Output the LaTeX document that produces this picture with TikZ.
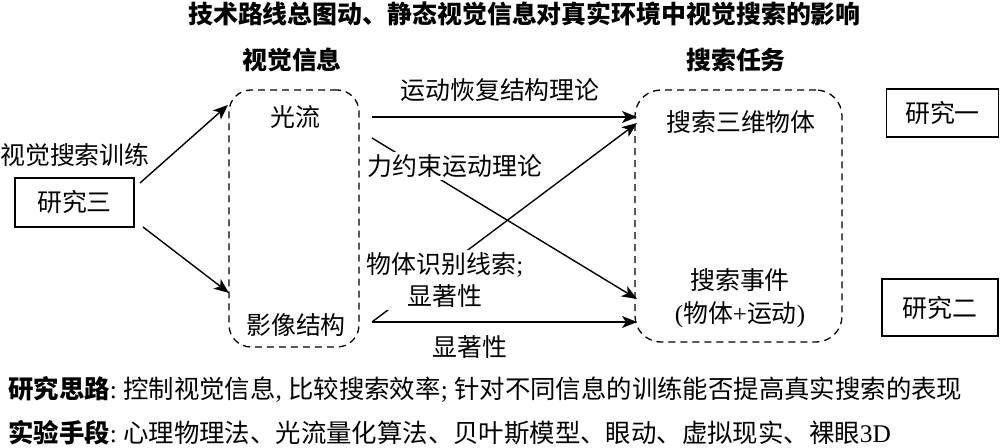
\documentclass[tikz,border=0pt]{standalone}
\usepackage{fontspec}
\setmainfont{Noto Sans CJK SC}
\newfontfamily\latfont{Liberation Serif}
\newcommand\latn[1]{{\latfont #1}}
\usetikzlibrary{arrows.meta}
\tikzset{
  lbl/.style={inner sep=0pt, font=\fontsize{25}{33}\selectfont, align=center},
  hdr/.style={inner sep=0pt, font=\fontsize{25}{30}\selectfont\bfseries},
  foot/.style={inner sep=0pt, anchor=west, font=\fontsize{25.5}{30}\selectfont},
  dbox/.style={draw, dash pattern=on 7bp off 5bp, line width=1.3bp},
  sbox/.style={draw, line width=1.3bp, inner sep=0pt},
  arr/.style={line width=1.4bp, -{Stealth[length=15bp,width=12bp,inset=4bp]}},
  ln/.style={line width=1.4bp},
  cover/.style={lbl, fill=white, inner sep=2bp}
}
\begin{document}
\begin{tikzpicture}[x=1bp,y=-1bp]
\useasboundingbox (0,0) rectangle (1000,448);
% title and headers
\node[hdr] (title) at (524.5,14) {技术路线总图动、静态视觉信息对真实环境中视觉搜索的影响};
\node[hdr] (hvis) at (292,60) {视觉信息};
\node[hdr] (htask) at (736,60) {搜索任务};
% dashed groups
\node[dbox, rounded corners=22bp, minimum width=130bp, minimum height=257bp] (vis) at (294,218.5) {};
\node[dbox, rounded corners=26bp, minimum width=207bp, minimum height=252bp] (task) at (738.5,216) {};
% inner labels
\node[lbl] (flow) at (295,117) {光流};
\node[lbl] (struct) at (296,325) {影像结构};
\node[lbl] (obj) at (741,122) {搜索三维物体};
\node[lbl] (event) at (740,298) {搜索事件\\\latn{(}物体\latn{+}运动\latn{)}};
% study boxes
\node[sbox, lbl, minimum width=112bp, minimum height=48bp] (s1) at (942.5,113) {研究一};
\node[sbox, lbl, minimum width=116bp, minimum height=57bp] (s2) at (940,307.5) {研究二};
\node[sbox, lbl, minimum width=119bp, minimum height=49bp] (s3) at (74.5,202.5) {研究三};
\node[lbl] (train) at (75,155) {视觉搜索训练};
% connector end points
\coordinate (s3a) at (140,183);
\coordinate (s3b) at (143,227);
\coordinate (flowin) at (228,105);
\coordinate (structin) at (229,293);
\coordinate (flowout) at (372,117);
\coordinate (flowout2) at (372,138);
\coordinate (structout) at (372,322);
\coordinate (objin) at (637,117);
\coordinate (objin2) at (637,123);
\coordinate (eventin) at (637,299);
\coordinate (eventin2) at (637,322);
% connectors
\draw[arr] (s3a) -- (flowin);
\draw[arr] (s3b) -- (structin);
\draw[arr] (flowout) -- (objin);
\draw[arr] (flowout2) -- (eventin);
\draw[arr] (structout) -- (objin2);
\draw[arr] (structout) -- (eventin2);
% connector labels
\node[lbl] (sfm) at (500,90) {运动恢复结构理论};
\node[cover] (force) at (455,166) {力约束运动理论};
\node[cover] (cue) at (445,280) {物体识别线索\latn{;}\\显著性};
\node[lbl] (sal) at (470,347) {显著性};
% footer
\node[foot] (idea) at (8,389) {{\bfseries 研究思路}\latn{:\ }控制视觉信息\latn{,\ }比较搜索效率\latn{;\ }针对不同信息的训练能否提高真实搜索的表现};
\node[foot] (means) at (8,433) {{\bfseries 实验手段}\latn{:\ }心理物理法、光流量化算法、贝叶斯模型、眼动、虚拟现实、裸眼\latn{3D}};
\end{tikzpicture}
\end{document}
